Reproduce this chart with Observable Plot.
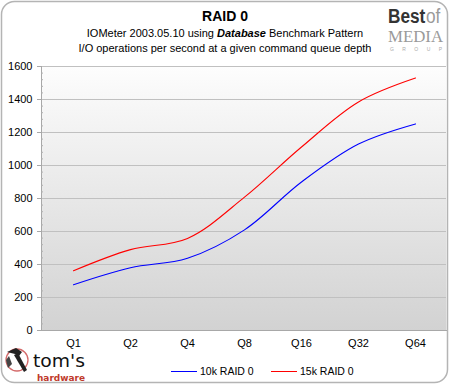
<!DOCTYPE html>
<html>
<head>
<meta charset="utf-8">
<script src="https://cdn.jsdelivr.net/npm/d3@7"></script>
<script src="https://cdn.jsdelivr.net/npm/@observablehq/plot@0.6"></script>
<style>
  html, body { margin: 0; padding: 0; background: #fff; }
  #wrap { position: relative; width: 450px; height: 385px; font-family: "Liberation Sans", Arial, sans-serif; overflow: hidden; }
  #wrap svg { position: absolute; left: 0; top: 0; }
  .t { position: absolute; white-space: nowrap; color: #000; }
</style>
</head>
<body>
<div id="wrap"></div>
<script>
const categories = ["Q1", "Q2", "Q4", "Q8", "Q16", "Q32", "Q64"];
const raid10k = [277, 380, 438, 610, 900, 1130, 1252];
const raid15k = [362, 490, 558, 808, 1112, 1385, 1530];
const seriesNames = ["10k RAID 0", "15k RAID 0"];
const seriesColors = ["#0000ff", "#ff0000"];
const yTicks = [0, 200, 400, 600, 800, 1000, 1200, 1400, 1600];
const yMinor = d3.range(0, 1601, 40).filter(v => v % 200 !== 0);
const titleText = "RAID 0";

const rows = [];
categories.forEach((c, i) => {
  rows.push({q: c, v: raid10k[i], s: seriesNames[0]});
  rows.push({q: c, v: raid15k[i], s: seriesNames[1]});
});

const chart = Plot.plot({
  width: 450,
  height: 385,
  marginLeft: 41,
  marginRight: 4,
  marginTop: 66,
  marginBottom: 55,
  style: {fontFamily: "'Liberation Sans', Arial, sans-serif", fontSize: "11px", color: "#000", background: "transparent"},
  x: {type: "point", domain: categories, padding: 0.5, label: null},
  y: {domain: [0, 1600], label: null},
  color: {domain: seriesNames, range: seriesColors},
  marks: [
    Plot.frame({fill: "url(#plotGrad)", stroke: "none"}),
    Plot.ruleY(yTicks.filter(v => v > 0), {stroke: "#c0c0c0", strokeWidth: 1}),
    Plot.frame({anchor: "left", stroke: "#a8a8a8"}),
    Plot.frame({anchor: "bottom", stroke: "#a8a8a8"}),
    Plot.axisY({ticks: yMinor, tickSize: 2, dx: 2, tickFormat: () => "", stroke: "#b0b0b0", label: null}),
    Plot.axisY({ticks: yTicks, tickSize: 4, tickPadding: 5, tickFormat: d => String(d), stroke: "#a8a8a8", fill: "#000", fontSize: 11, label: null}),
    Plot.axisX({tickSize: 0, tickPadding: 9, fill: "#000", fontSize: 11, label: null}),
    Plot.line(rows, {x: "q", y: "v", z: "s", stroke: "s", strokeWidth: 1.1, curve: "catmull-rom"})
  ]
});

// gradient background for the plot area
const ns = "http://www.w3.org/2000/svg";
const defs = document.createElementNS(ns, "defs");
defs.innerHTML = `<linearGradient id="plotGrad" x1="0" y1="0" x2="0" y2="1">
  <stop offset="0" stop-color="#fdfdfd"/><stop offset="1" stop-color="#d2d2d2"/></linearGradient>`;
chart.insertBefore(defs, chart.firstChild);

const wrap = document.getElementById("wrap");

// outer rounded border
const border = document.createElementNS(ns, "svg");
border.setAttribute("width", 450); border.setAttribute("height", 385);
border.innerHTML = `<rect x="1.5" y="1.5" width="446" height="381" rx="13" ry="13" fill="#fff" stroke="#b4b4b4" stroke-width="1.5"/>`;
wrap.appendChild(border);
wrap.appendChild(chart);

function addText(html, left, top, style) {
  const d = document.createElement("div");
  d.className = "t";
  d.innerHTML = html;
  d.style.left = left + "px";
  d.style.top = top + "px";
  Object.assign(d.style, style || {});
  wrap.appendChild(d);
  return d;
}

// titles
addText(titleText, 0, 8, {width: "450px", textAlign: "center", fontWeight: "bold", fontSize: "14px"});
addText(`IOMeter 2003.05.10 using <b><i>Database</i></b> Benchmark Pattern`, 0, 27, {width: "450px", textAlign: "center", fontSize: "11px"});
addText(`I/O operations per second at a given command queue depth`, 0, 42, {width: "450px", textAlign: "center", fontSize: "11px"});

// legend
const leg = document.createElementNS(ns, "svg");
leg.setAttribute("width", 450); leg.setAttribute("height", 385);
leg.style.position = "absolute"; leg.style.left = "0"; leg.style.top = "0";
seriesNames.forEach((n, i) => {
  const x0 = 171 + i * 100;
  leg.innerHTML += `<line x1="${x0}" x2="${x0 + 26}" y1="371.5" y2="371.5" stroke="${seriesColors[i]}" stroke-width="1"/>
  <text x="${x0 + 29}" y="375" font-size="10.5" font-family="'Liberation Sans', Arial, sans-serif">${n}</text>`;
});
// tom's hardware logo
leg.innerHTML += `<circle cx="17" cy="360" r="11" fill="none" stroke="#d46a6a" stroke-width="1.3"/>
  <path d="M7 352 L16 348 L22 352 L19 356 L15 354 Z" fill="#222"/>
  <path d="M14 355 L24 372 L27 370 L18 353 Z" fill="#222"/>
  <path d="M9 356 L12 364 L8 368 L6 360 Z" fill="#444"/>
  <text x="33" y="367" font-size="17" font-family="'DejaVu Sans', Verdana, sans-serif" fill="#111" textLength="52" lengthAdjust="spacingAndGlyphs">tom's</text>
  <text x="37" y="380.5" font-size="9" font-weight="bold" font-family="'DejaVu Sans', Verdana, sans-serif" fill="#c0392b" textLength="48" lengthAdjust="spacingAndGlyphs">hardware</text>`;
// Best of MEDIA logo
leg.innerHTML += `<g transform="translate(388,23) scale(1.15,1.4)" font-family="'Liberation Sans', Arial, sans-serif" font-size="15">
    <text x="0" y="0" font-weight="bold" fill="#333">Best</text>
    <text x="33" y="0" fill="#9a9a9a">of</text>
  </g>
  <text x="388" y="42" font-size="17" font-family="'Liberation Serif', serif" fill="#9a9a9a" textLength="55" lengthAdjust="spacingAndGlyphs">MEDIA</text>
  <text x="390" y="51" font-size="5" font-family="'Liberation Sans', sans-serif" fill="#aaa" textLength="52" lengthAdjust="spacing">GROUP</text>`;
wrap.appendChild(leg);
</script>
</body>
</html>
